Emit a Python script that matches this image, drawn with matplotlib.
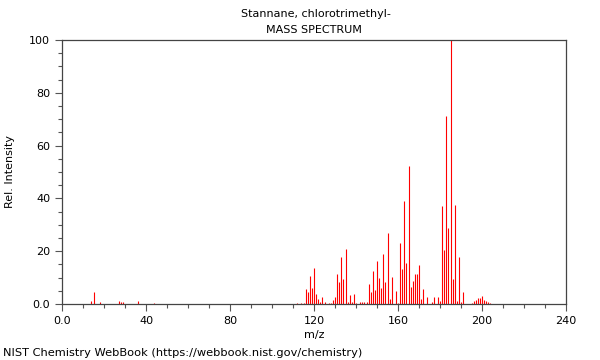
import matplotlib
matplotlib.use("Agg")
import matplotlib.pyplot as plt
from matplotlib.ticker import MultipleLocator, FixedLocator, FixedFormatter

mz = [14, 15, 18, 27, 28, 29, 36, 44, 112, 114, 115, 116, 117, 118, 119, 120,
      121, 122, 123, 124, 125, 127, 128, 129, 130, 131, 132, 133, 134, 135,
      136, 137, 138, 139, 140, 142, 143, 144, 145, 146, 147, 148, 149, 150,
      151, 152, 153, 154, 155, 156, 157, 159, 160, 161, 162, 163, 164, 165,
      166, 167, 168, 169, 170, 171, 172, 174, 176, 177, 179, 180, 181, 182,
      183, 184, 185, 186, 187, 188, 189, 190, 191, 195, 196, 197, 198, 199,
      200, 201, 202, 203, 204]
intensity = [1.3, 4.6, 0.6, 1.3, 0.8, 0.7, 1.3, 0.3, 0.4, 0.3, 0.3, 5.8, 4.6,
             10.5, 5.9, 13.6, 3.8, 1.9, 0.8, 2.5, 0.8, 0.3, 0.5, 1.5, 2.6,
             11.3, 8.5, 17.9, 9.3, 20.7, 0.8, 3.4, 0.7, 3.8, 0.3, 0.6, 0.6,
             0.6, 0.6, 7.6, 4.5, 12.5, 5.3, 16.3, 9.8, 5.9, 19.1, 8.3, 26.8,
             1.9, 10.4, 4.9, 0.5, 23.2, 13.4, 39.0, 15.4, 52.4, 6.6, 8.7, 11.2,
             11.2, 14.8, 1.9, 5.7, 2.8, 0.6, 2.5, 2.5, 1.0, 37.1, 20.5, 71.3,
             28.9, 100.0, 9.3, 37.5, 1.0, 17.9, 0.8, 4.7, 0.5, 1.0, 1.5, 2.1,
             2.3, 3.0, 1.4, 1.0, 0.6, 0.5]

x_ticks = [0, 40, 80, 120, 160, 200, 240]
x_labels = ["0.0", "40", "80", "120", "160", "200", "240"]
y_ticks = [0, 20, 40, 60, 80, 100]
y_labels = ["0.0", "20", "40", "60", "80", "100"]

title1 = "Stannane, chlorotrimethyl-"
title2 = "MASS SPECTRUM"
xlabel = "m/z"
ylabel = "Rel. Intensity"
footer = "NIST Chemistry WebBook (https://webbook.nist.gov/chemistry)"

plt.rcParams['font.family'] = ['DejaVu Sans']
fig = plt.figure(figsize=(6, 3.6), dpi=100)
ax = fig.add_axes([62/600, 1 - 304/360, 504/600, 264/360])

ax.vlines(mz, 0, intensity, colors="red", linewidth=0.8)

ax.set_xlim(0, 240)
ax.set_ylim(0, 100)
ax.xaxis.set_major_locator(FixedLocator(x_ticks))
ax.xaxis.set_major_formatter(FixedFormatter(x_labels))
ax.yaxis.set_major_locator(FixedLocator(y_ticks))
ax.yaxis.set_major_formatter(FixedFormatter(y_labels))
ax.xaxis.set_minor_locator(MultipleLocator(10))
ax.yaxis.set_minor_locator(MultipleLocator(5))
ax.tick_params(which="major", length=5, width=0.8, color="#555555", labelsize=8, direction="out")
ax.tick_params(which="minor", length=3, width=0.8, color="#555555", direction="out")
for s in ax.spines.values():
    s.set_color("#444444")
    s.set_linewidth(0.9)

ax.set_xlabel(xlabel, fontsize=8, labelpad=3)
ax.set_ylabel(ylabel, fontsize=8, labelpad=10)

fig.text(316/600, 1 - 14/360, title1, ha="center", va="center", fontsize=8)
fig.text(314/600, 1 - 30/360, title2, ha="center", va="center", fontsize=8)
fig.text(3/600, 1 - 353/360, footer, ha="left", va="center", fontsize=8.2)

fig.savefig("out.png", dpi=100)
